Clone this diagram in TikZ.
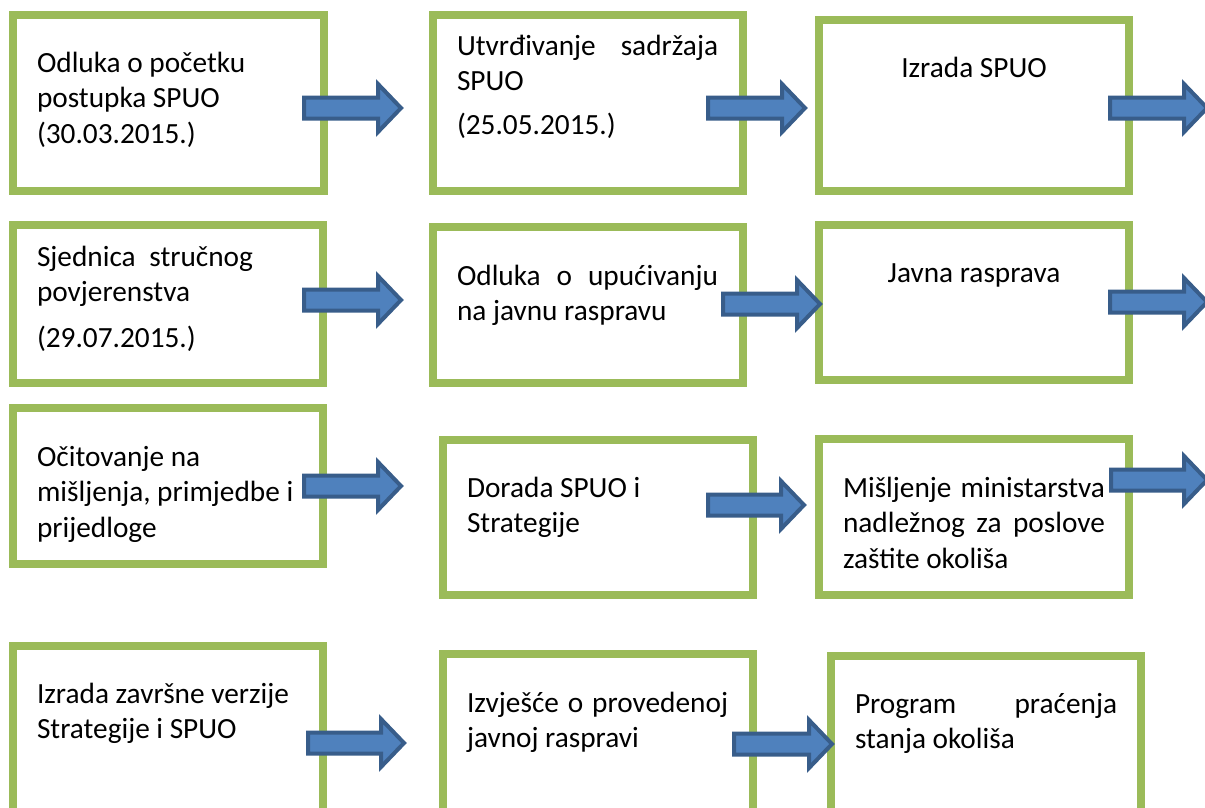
\documentclass[tikz,border=0pt]{standalone}
\usepackage{fontspec}
\setmainfont{Carlito}
\usetikzlibrary{calc}
\definecolor{boxgreen}{HTML}{9BBB59}
\definecolor{arrfill}{HTML}{4F81BD}
\definecolor{arrline}{HTML}{385D8A}
\tikzset{
  stage/.style={draw=boxgreen, line width=8pt, rectangle, inner sep=0pt, outer sep=0pt, fill=white},
  txt/.style={anchor=base west, inner sep=0pt, outer sep=0pt, font=\fontsize{29.3}{35.5}\selectfont},
  ctxt/.style={anchor=base, inner sep=0pt, outer sep=0pt, font=\fontsize{29.3}{35.5}\selectfont},
  barrow/.style={draw=arrline, fill=arrfill, line width=4pt, line join=miter},
}
\newcommand\blockarrow[2]{%
  \path[barrow] let \p1=(#1), \p2=(#2) in
    (\x1,\y1+10.5pt) -- (\x2-23pt,\y1+10.5pt) -- (\x2-23pt,\y1+24pt) -- (\x2,\y1)
    -- (\x2-23pt,\y1-24pt) -- (\x2-23pt,\y1-10.5pt) -- (\x1,\y1-10.5pt) -- cycle;}
\newcommand\lines[1]{\parbox[t]{280pt}{#1}}
\begin{document}
\begin{tikzpicture}[x=1pt,y=-1pt]
\useasboundingbox (0,0) rectangle (1205,807);
\clip (0,0) rectangle (1205,807);
% boxes
\node[stage, minimum width=311pt, minimum height=176pt] (A1) at (168.5,103) {};
\node[stage, minimum width=310pt, minimum height=176pt] (A2) at (588,103) {};
\node[stage, minimum width=310pt, minimum height=171pt] (A3) at (974,105.5) {};
\node[stage, minimum width=310pt, minimum height=158pt] (B1) at (168,304) {};
\node[stage, minimum width=310pt, minimum height=156pt] (B2) at (588,305) {};
\node[stage, minimum width=310pt, minimum height=155pt] (B3) at (974,302.5) {};
\node[stage, minimum width=310pt, minimum height=156pt] (C1) at (168,486) {};
\node[stage, minimum width=310pt, minimum height=155pt] (C2) at (598,517.5) {};
\node[stage, minimum width=310pt, minimum height=156pt] (C3) at (974,517) {};
\node[stage, minimum width=310pt, minimum height=184pt] (D1) at (168,738) {};
\node[stage, minimum width=310pt, minimum height=176pt] (D2) at (598,742) {};
\node[stage, minimum width=310pt, minimum height=174pt] (D3) at (986,743) {};
% texts
\node[txt] (tA1) at (37,72) {\lines{Odluka o početku\\postupka SPUO\\(30.03.2015.)}};
\node[txt] (tA2) at (457,55) {\lines{\makebox[261pt][s]{Utvrđivanje sadržaja}\\SPUO\\[8pt](25.05.2015.)}};
\node[ctxt] (tA3) at (974,77) {Izrada SPUO};
\node[txt] (tB1) at (37,266) {\lines{\makebox[216pt][s]{Sjednica stručnog}\\povjerenstva\\[10pt](29.07.2015.)}};
\node[txt] (tB2) at (457,285) {\lines{\makebox[261pt][s]{Odluka o upućivanju}\\na javnu raspravu}};
\node[ctxt] (tB3) at (974,282) {Javna rasprava};
\node[txt] (tC1) at (37,466) {\lines{Očitovanje na\\mišljenja, primjedbe i\\prijedloge}};
\node[txt] (tC2) at (467,497) {\lines{Dorada SPUO i\\Strategije}};
\node[txt] (tC3) at (843,497) {\lines{\makebox[262pt][s]{Mišljenje ministarstva}\\\makebox[262pt][s]{nadležnog za poslove}\\zaštite okoliša}};
\node[txt] (tD1) at (37,703) {\lines{Izrada završne verzije\\Strategije i SPUO}};
\node[txt] (tD2) at (467,712) {\lines{\makebox[261pt][s]{Izvješće o provedenoj}\\javnoj raspravi}};
\node[txt] (tD3) at (855,713) {\lines{\makebox[262pt][s]{Program praćenja}\\stanja okoliša}};
% arrow coordinates
\coordinate (a1s) at (304,108); \coordinate (a1e) at (401,108);
\coordinate (a2s) at (708,108); \coordinate (a2e) at (805,108);
\coordinate (a3s) at (1110,108); \coordinate (a3e) at (1207,108);
\coordinate (b1s) at (304,300); \coordinate (b1e) at (401,300);
\coordinate (b2s) at (723,304); \coordinate (b2e) at (820,304);
\coordinate (b3s) at (1110,302); \coordinate (b3e) at (1207,302);
\coordinate (c1s) at (304,486); \coordinate (c1e) at (401,486);
\coordinate (c2s) at (708,505); \coordinate (c2e) at (804,505);
\coordinate (c3s) at (1111,480); \coordinate (c3e) at (1207,480);
\coordinate (d1s) at (308,743); \coordinate (d1e) at (404,743);
\coordinate (d2s) at (734,744); \coordinate (d2e) at (832,744);
\blockarrow{a1s}{a1e}
\blockarrow{a2s}{a2e}
\blockarrow{a3s}{a3e}
\blockarrow{b1s}{b1e}
\blockarrow{b2s}{b2e}
\blockarrow{b3s}{b3e}
\blockarrow{c1s}{c1e}
\blockarrow{c2s}{c2e}
\blockarrow{c3s}{c3e}
\blockarrow{d1s}{d1e}
\blockarrow{d2s}{d2e}
\end{tikzpicture}
\end{document}
